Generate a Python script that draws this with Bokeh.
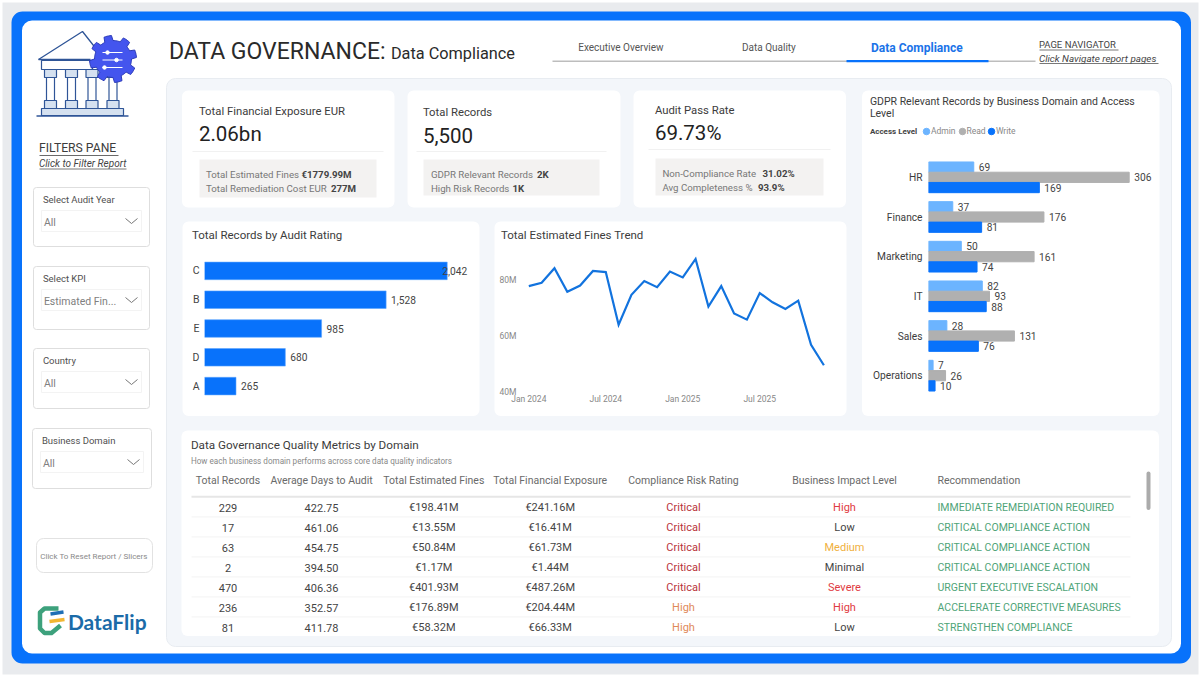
import numpy as np
from bokeh.core.properties import value
from bokeh.embed import file_html
from bokeh.layouts import column
from bokeh.models import FactorRange, FixedTicker, PrintfTickFormatter, Range1d
from bokeh.plotting import figure
from bokeh.resources import INLINE
from bokeh.transform import dodge

# ---------- data ----------
ratings = ["C", "B", "E", "D", "A"]
rating_records = [2042, 1528, 985, 680, 265]

months = ["Jan 2024", "Feb 2024", "Mar 2024", "Apr 2024", "May 2024", "Jun 2024", "Jul 2024", "Aug 2024",
          "Sep 2024", "Oct 2024", "Nov 2024", "Dec 2024", "Jan 2025", "Feb 2025", "Mar 2025", "Apr 2025",
          "May 2025", "Jun 2025", "Jul 2025", "Aug 2025", "Sep 2025", "Oct 2025", "Nov 2025", "Dec 2025"]
fines_m = [77.7, 78.9, 84.1, 75.7, 77.9, 83.1, 82.7, 63.9, 74.6, 79.5, 77.3, 82.9,
           80.8, 87.4, 70.4, 77.7, 67.9, 65.7, 75.2, 71.9, 69.5, 72.5, 56.7, 49.4]
fines_ticks = [40, 60, 80]

domains = ["HR", "Finance", "Marketing", "IT", "Sales", "Operations"]
admin = [69, 37, 50, 82, 28, 7]
read = [306, 176, 161, 93, 131, 26]
write = [169, 81, 74, 88, 76, 10]

tbl_headers = ["Total Records", "Average Days to Audit", "Total Estimated Fines", "Total Financial Exposure",
               "Compliance Risk Rating", "Business Impact Level", "Recommendation"]
tbl_records = ["229", "17", "63", "2", "470", "236", "81"]
tbl_days = ["422.75", "461.06", "454.75", "394.50", "406.36", "352.57", "411.78"]
tbl_fines = ["€198.41M", "€13.55M", "€50.84M", "€1.17M", "€401.93M", "€176.89M", "€58.32M"]
tbl_exposure = ["€241.16M", "€16.41M", "€61.73M", "€1.44M", "€487.26M", "€204.44M", "€66.33M"]
tbl_risk = ["Critical", "Critical", "Critical", "Critical", "Critical", "High", "High"]
tbl_impact = ["High", "Low", "Medium", "Minimal", "Severe", "High", "Low"]
tbl_rec = ["IMMEDIATE REMEDIATION REQUIRED", "CRITICAL COMPLIANCE ACTION", "CRITICAL COMPLIANCE ACTION",
           "CRITICAL COMPLIANCE ACTION", "URGENT EXECUTIVE ESCALATION", "ACCELERATE CORRECTIVE MEASURES",
           "STRENGTHEN COMPLIANCE"]

# ---------- style ----------
FONT = "Roboto"
F = value(FONT)
BLUE = "#0872FB"
LIGHT = "#6CB4FF"
GREY = "#B0B0B0"
INK = "#3C3C3C"
MUTED = "#777777"
RISK_COL = {"Critical": "#B8323A", "High": "#E08A5A"}
IMPACT_COL = {"High": "#DF3A42", "Severe": "#DF3A42", "Medium": "#F0B040", "Low": "#444444", "Minimal": "#444444"}
REC_COL = "#4FA478"
PAGE_W, PAGE_H = 1200, 681


def place(x, y):
    return {"position": "absolute", "left": f"{x}px", "top": f"{y}px"}


# ---------- background layer, in page pixels ----------
bg = figure(width=PAGE_W, height=PAGE_H, x_range=Range1d(0, PAGE_W), y_range=Range1d(PAGE_H, 0),
            output_backend="svg", toolbar_location=None, min_border=0, outline_line_color=None,
            x_axis_location=None, y_axis_location=None, border_fill_color="white", background_fill_color="white",
            frame_align=False)
bg.grid.visible = False


def box(x0, y0, x1, y1, fill="white", line=None, r=0, lw=1):
    bg.quad(left=[x0], right=[x1], top=[y0], bottom=[y1], fill_color=fill, line_color=line, line_width=lw,
            border_radius=r)


def txt(x, y, s, size=11, color=INK, style="normal", align="left", font=FONT):
    bg.text(x=[x - 0.6], y=[y - 0.2], text=[s], text_font=value(font), text_font_size=f"{size}px", text_color=color,
            text_font_style=style, text_align=align, text_baseline="middle")


def seg(xs, ys, color="#888888", w=1):
    bg.line(xs, ys, line_color=color, line_width=w)


box(2, 2, 1198, 674, fill="#E9EBEE")
box(11, 11, 1190.5, 663, fill=BLUE, r=11)
box(21.5, 20, 1180.5, 653, fill="white", r=10)
box(166, 78, 1171, 646, fill="#F3F6FA", line="#E8ECF1", r=9)

for c in [(181.5, 90, 394, 207), (407, 90, 620, 207), (633, 90, 845.5, 207), (182, 221, 479, 415.5),
          (494, 221, 846, 415.5), (861.5, 90, 1159, 415.5), (181, 430, 1158.5, 635.5)]:
    box(*c, fill="white", r=6)
for c in [(199, 159, 376, 197), (423, 159, 599, 195), (655, 158, 823, 195)]:
    box(*c, fill="#F3F2F1")
for a, b, y in [(192, 383, 151), (416, 606, 151), (648, 830, 149)]:
    seg([a, b], [y, y], "#F1F1F1")

# header
txt(169, 51, "DATA GOVERNANCE:", 23, "#2A2A2A")
txt(391, 53, "Data Compliance", 16.3, "#2A2A2A")
txt(621, 47.5, "Executive Overview", 10, "#555555", align="center")
txt(769, 47.5, "Data Quality", 10, "#555555", align="center")
txt(917, 47.5, "Data Compliance", 12, "#1A73E8", "bold", align="center")
seg([552, 1035], [60.7, 60.7], "#BDBDBD", 1.5)
seg([846, 988], [60.7, 60.7], BLUE, 2.2)
txt(1039, 44, "PAGE NAVIGATOR", 9.5, "#444444")
seg([1039, 1118], [49.5, 49.5], "#555555", 0.8)
txt(1039, 58, "Click Navigate report pages", 9.9, "#444444", "italic")
seg([1039, 1158], [63, 63], "#555555", 0.8)

# side pane
txt(39, 148, "FILTERS PANE", 12.2, "#3C3C3C")
seg([39, 118], [155, 155], "#444444", 0.8)
txt(39, 163, "Click to Filter Report", 10, "#444444", "italic")
seg([39, 126], [168.5, 168.5], "#555555", 0.8)

slicers = [("Select Audit Year", "All", 187, 246, 33, 149), ("Select KPI", "Estimated Fin...", 266, 329, 33, 149),
           ("Country", "All", 348, 408, 33, 149), ("Business Domain", "All", 428, 488, 32, 151)]
for name, val, y0, y1, x0, x1 in slicers:
    box(x0, y0, x1, y1, fill="white", line="#DEDEDE", r=3)
    fx = x0 + 8
    box(fx, y0 + 23, x1 - 8, y0 + 44, fill="white", line="#F3F3F3")
    txt(x0 + 10, y0 + 12, name, 9.5, "#505050")
    txt(fx + 3, y0 + 35, val, 10.5, "#808080")
    cx = x1 - 18
    seg([cx - 6, cx, cx + 6], [y0 + 31, y0 + 36, y0 + 31], "#777777", 1)

box(36, 538, 152, 572, fill="white", line="#E2E2E2", r=7)
txt(94, 556, "Click To Reset Report / Slicers", 8, "#8A8A8A", align="center")

# building + gear icon
NAVY = "#2F5597"
PALE = "#D5E1F0"
bg.line([38, 82, 104], [59, 31, 59], line_color=NAVY, line_width=1.3)
seg([38, 90], [59, 59], NAVY, 1.5)
box(41, 60, 92, 69, fill="white", line=NAVY, lw=1.2)
for cx in (50, 71, 91.5, 112.5):
    box(cx - 4, 77, cx + 4, 100, fill="white", line=NAVY, lw=1.2)
    box(cx - 6, 69, cx + 6, 77, fill=PALE, line=NAVY, lw=1.2)
    box(cx - 6, 100, cx + 6, 108, fill=PALE, line=NAVY, lw=1.2)
box(41, 108, 123, 115, fill=PALE, line=NAVY, lw=1.2)
seg([36, 128], [115.5, 115.5], NAVY, 1.5)
ang = np.linspace(0, 2 * np.pi, 96, endpoint=False)
rad = np.where(((ang + np.pi / 8) % (np.pi / 4)) < np.pi / 8, 23.5, 18.5)
bg.patch(112.5 + rad * np.cos(ang), 58.5 + rad * np.sin(ang), fill_color="#4455EE", line_color="#2C3BB8", line_width=1)
for y, x0, x1, d in [(52, 102, 122, 107), (59.5, 102, 122, 116), (67, 102, 122, 104)]:
    seg([x0, x1], [y, y], "white", 1)
    bg.scatter([d], [y], size=3.5, color="white")

# logo
bg.line([58, 44, 39.5, 39.5, 44, 51, 60], [608, 608, 612, 628, 632.5, 632.5, 625],
        line_color="#3DA17C", line_width=4.5, line_join="round")
seg([50, 63], [613.5, 611.5], "#1F6FB5", 3.5)
seg([49, 64], [621, 619], "#F2B632", 3.5)
txt(68, 621, "DataFlip", 21, "#1B6BA8", "bold", font="Lato")

# KPI cards
txt(199, 111, "Total Financial Exposure EUR", 11.3, INK)
txt(199, 134, "2.06bn", 20.5, "#222222")
txt(206, 174, "Total Estimated Fines", 9.7, MUTED)
txt(301.5, 174, "€1779.99M", 9.7, "#444444", "bold")
txt(206, 188, "Total Remediation Cost EUR", 9.7, MUTED)
txt(331, 188, "277M", 9.7, "#444444", "bold")
txt(423, 112, "Total Records", 11.3, INK)
txt(423, 135, "5,500", 20.5, "#222222")
txt(431, 174, "GDPR Relevant Records", 9.7, MUTED)
txt(537, 174, "2K", 9.7, "#444444", "bold")
txt(431, 188, "High Risk Records", 9.7, MUTED)
txt(512.5, 188, "1K", 9.7, "#444444", "bold")
txt(655, 110, "Audit Pass Rate", 11.3, INK)
txt(655, 133, "69.73%", 20.5, "#222222")
txt(662.5, 173, "Non-Compliance Rate", 9.7, MUTED)
txt(762.5, 173, "31.02%", 9.7, "#444444", "bold")
txt(662.5, 187, "Avg Completeness %", 9.7, MUTED)
txt(758, 187, "93.9%", 9.7, "#444444", "bold")

# chart titles
txt(192, 235, "Total Records by Audit Rating", 11.5, INK)
txt(501, 235, "Total Estimated Fines Trend", 11.5, INK)
txt(870, 101, "GDPR Relevant Records by Business Domain and Access", 10.5, INK)
txt(870, 113, "Level", 10.5, INK)
txt(870, 131, "Access Level", 8, "#444444", "bold")
for dot, tx, label, col in [(926, 931, "Admin", LIGHT), (962, 966.5, "Read", GREY), (991, 996, "Write", BLUE)]:
    bg.scatter([dot], [131], size=6.5, color=col)
    txt(tx, 131, label, 8.5, "#888888")
txt(191, 445, "Data Governance Quality Metrics by Domain", 11.7, INK)
txt(191, 461, "How each business domain performs across core data quality indicators", 8.15, "#888888")


def chart(x, y, w, h, xr, yr, left=0, right=0, top=0, bottom=0, **kw):
    f = figure(width=w, height=h, x_range=xr, y_range=yr, output_backend="svg", toolbar_location=None,
               min_border_left=left, min_border_right=right, min_border_top=top, min_border_bottom=bottom,
               background_fill_alpha=0, border_fill_alpha=0, outline_line_color=None, styles=place(x, y),
               frame_align=False, **kw)
    f.grid.visible = False
    return f


def clean(axis, size, color):
    axis.axis_line_color = None
    axis.major_tick_line_color = None
    axis.minor_tick_line_color = None
    axis.major_tick_out = 0
    axis.major_tick_in = 0
    axis.major_label_text_font = FONT
    axis.major_label_text_font_size = f"{size}px"
    axis.major_label_text_color = color


# ---------- bars by audit rating ----------
c1 = chart(181, 255.5, 297, 144, Range1d(0, 2238), FactorRange(factors=ratings[::-1], range_padding=0), left=23, right=8)
c1.hbar(y=ratings, right=rating_records, height=0.61, left=0, color=BLUE, line_color="#5BA4FF", line_width=0.6)
c1.text(x=rating_records, y=ratings, text=[f"{v:,}" for v in rating_records],
        x_offset=[-5 if v == max(rating_records) else 5 for v in rating_records],
        text_font=F, text_font_size="10.2px", text_color="#444444", text_baseline="middle")
c1.xaxis.visible = False
clean(c1.yaxis[0], 10.5, "#444444")
c1.yaxis.major_label_standoff = 5

# ---------- fines trend ----------
px_per_month = 12.83
px_per_m = 2.79
c2 = chart(494, 245, 352, 165, Range1d(-8.3 / px_per_month, 309.7 / px_per_month),
           Range1d(40, 40 + 140.7 / px_per_m), left=26, right=8, top=5, bottom=19)
c2.line(x=list(range(len(months))), y=fines_m, line_color="#1273DE", line_width=2.2, line_join="miter")
clean(c2.xaxis[0], 8.5, "#888888")
clean(c2.yaxis[0], 8.5, "#888888")
c2.xaxis.ticker = FixedTicker(ticks=[0, 6, 12, 18])
c2.xaxis.major_label_overrides = {i: months[i] for i in (0, 6, 12, 18)}
c2.xaxis.major_label_standoff = 2
c2.yaxis.ticker = FixedTicker(ticks=fines_ticks)
c2.yaxis.formatter = PrintfTickFormatter(format="%dM")
c2.yaxis.major_label_standoff = 4

# ---------- grouped bars ----------
c3_y = FactorRange(factors=domains[::-1], range_padding=0)
c3 = chart(862, 156.5, 297, 238, Range1d(0, 226.7 / 0.655), c3_y, left=66, right=4)
bar = 0.258
for series, off, col in [(admin, bar, LIGHT), (read, 0, GREY), (write, -bar, BLUE)]:
    src = {"d": domains, "v": series, "t": [str(v) for v in series]}
    c3.hbar(y=dodge("d", off, range=c3_y), right="v", left=0, height=bar, color=col, source=src)
    c3.text(x="v", y=dodge("d", off, range=c3_y), text="t", x_offset=5, text_font=F, text_font_size="10.2px",
            text_color="#444444", text_baseline="middle", source=src)
c3.xaxis.visible = False
clean(c3.yaxis[0], 10.2, "#3C3C3C")
c3.yaxis.major_label_standoff = 6

# ---------- table ----------
tb = chart(181, 470, 977, 167, Range1d(182, 1159), Range1d(6.5, -1.85), x_axis_location=None, y_axis_location=None)
rows = list(range(len(tbl_records)))
col_x = [228.5, 322, 434.3, 550.7, 684, 845]
for cx, head in zip(col_x, tbl_headers):
    tb.text(x=[cx], y=[-1.335], text=[head], text_font=F, text_font_size="10.5px", text_color="#6A6A6A",
            text_align="center", text_baseline="middle")
tb.text(x=[938], y=[-1.335], text=[tbl_headers[6]], text_font=F, text_font_size="10.5px", text_color="#6A6A6A",
        text_baseline="middle")
tb.segment(x0=[192], x1=[1131], y0=[-0.54], y1=[-0.54], line_color="#E6E6E6", line_width=2)
tb.segment(x0=[192] * 6, x1=[1131] * 6, y0=[r + 0.47 for r in rows[:-1]], y1=[r + 0.47 for r in rows[:-1]],
           line_color="#F3F3F3", line_width=1)
for cx, vals, cols in [(col_x[0], tbl_records, ["#444444"] * 7), (col_x[1], tbl_days, ["#444444"] * 7),
                       (col_x[2], tbl_fines, ["#444444"] * 7), (col_x[3], tbl_exposure, ["#444444"] * 7),
                       (col_x[4], tbl_risk, [RISK_COL[v] for v in tbl_risk]),
                       (col_x[5], tbl_impact, [IMPACT_COL[v] for v in tbl_impact])]:
    tb.text(x=[cx] * 7, y=rows, text=vals, text_color=cols, text_font=F, text_font_size="11px",
            text_align="center", text_baseline="middle")
tb.text(x=[938] * 7, y=rows, text=tbl_rec, text_color=REC_COL, text_font=F, text_font_size="10.5px",
        text_baseline="middle")
tb.quad(left=[1147], right=[1151], top=[-1.8], bottom=[0.12], fill_color="#ABABAB", line_color=None, border_radius=2)

page = column(bg, c1, c2, c3, tb, width=PAGE_W, height=PAGE_H, styles={"position": "relative"})
open("out.html", "w").write(file_html(page, INLINE))
